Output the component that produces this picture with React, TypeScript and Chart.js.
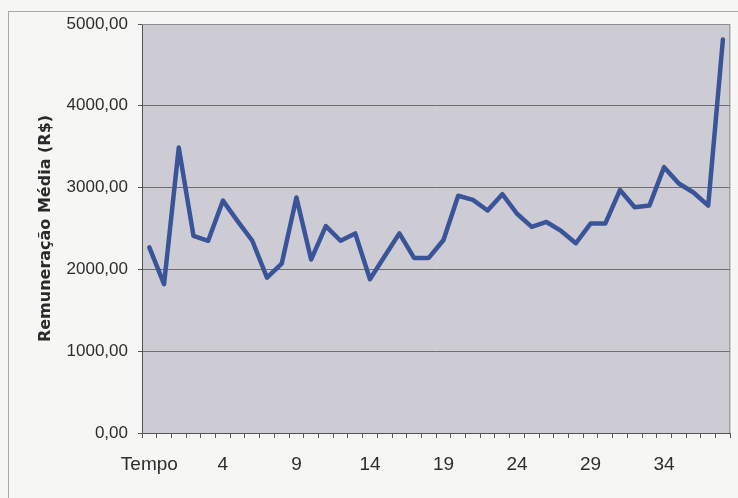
import React, { useEffect, useRef } from "react";
import { Chart, registerables } from "chart.js";

Chart.register(...registerables);

const categories: string[] = ["Tempo", ...Array.from({ length: 39 }, (_, i) => String(i))];

const remuneracao: number[] = [
  2270, 1820, 3490, 2410, 2350, 2840, 2590, 2350, 1900, 2070,
  2880, 2120, 2530, 2350, 2440, 1880, 2160, 2440, 2140, 2140,
  2360, 2900, 2850, 2720, 2920, 2680, 2520, 2580, 2470, 2320,
  2560, 2560, 2970, 2760, 2780, 3250, 3050, 2940, 2780, 4810,
];

const yTicks: number[] = [0, 1000, 2000, 3000, 4000, 5000];
const yTitle = "Remuneração Média (R$)";

const fmt = (v: number) => v.toFixed(2).replace(".", ",");

const bgPlugin = {
  id: "bgPlugin",
  beforeDraw(chart: any) {
    const { ctx, chartArea, width, height } = chart;
    ctx.save();
    ctx.fillStyle = "#f6f6f4";
    ctx.fillRect(0, 0, width, height);
    ctx.strokeStyle = "#a8a8a8";
    ctx.lineWidth = 1;
    ctx.strokeRect(8.5, 11.5, width + 20, height + 20);
    ctx.fillStyle = "#cdccd4";
    ctx.fillRect(chartArea.left, chartArea.top, chartArea.right - chartArea.left, chartArea.bottom - chartArea.top);
    ctx.restore();
  },
  beforeDatasetsDraw(chart: any) {
    const { ctx, chartArea } = chart;
    ctx.save();
    ctx.strokeStyle = "#8c8c8c";
    ctx.lineWidth = 1;
    ctx.beginPath();
    ctx.moveTo(chartArea.left, chartArea.top + 0.5);
    ctx.lineTo(chartArea.right - 0.5, chartArea.top + 0.5);
    ctx.lineTo(chartArea.right - 0.5, chartArea.bottom);
    ctx.stroke();
    ctx.restore();
  },
};

export default function App() {
  const ref = useRef<HTMLCanvasElement | null>(null);

  useEffect(() => {
    document.body.style.margin = "0";
    if (!ref.current) return;
    const chart = new Chart(ref.current, {
      type: "line",
      data: {
        labels: categories,
        datasets: [
          {
            data: remuneracao,
            borderColor: "#3a5499",
            borderWidth: 4.5,
            borderJoinStyle: "round",
            borderCapStyle: "round",
            pointRadius: 0,
            tension: 0,
            fill: false,
          },
        ],
      },
      options: {
        animation: false,
        responsive: true,
        maintainAspectRatio: false,
        layout: { padding: { top: 24, right: 7, left: 0, bottom: 0 } },
        plugins: { legend: { display: false }, tooltip: { enabled: false } },
        scales: {
          x: {
            type: "category",
            offset: true,
            grid: {
              offset: true,
              drawOnChartArea: false,
              drawTicks: true,
              tickLength: 5,
              tickColor: "#555",
            },
            border: { display: true, color: "#555", width: 1 },
            ticks: {
              autoSkip: false,
              maxRotation: 0,
              minRotation: 0,
              padding: 15,
              color: "#2e2e2e",
              font: { family: "'Liberation Sans', Arial, sans-serif", size: 19 },
              callback: (_v: any, i: number) => (i % 5 === 0 ? categories[i] : ""),
            },
            afterFit: (s: any) => {
              s.height = 65;
            },
          },
          y: {
            min: yTicks[0],
            max: yTicks[yTicks.length - 1],
            afterBuildTicks: (s: any) => {
              s.ticks = yTicks.map((v) => ({ value: v }));
            },
            grid: {
              color: (c: any) => (c.tick && c.tick.value === 5000 ? "#9a9a9a" : "#6e6e6e"),
              lineWidth: 1,
              drawTicks: true,
              tickLength: 4,
              tickColor: "#555",
            },
            border: { display: true, color: "#555", width: 1 },
            ticks: {
              padding: 10,
              color: "#2e2e2e",
              font: { family: "'Liberation Sans', Arial, sans-serif", size: 17 },
              callback: (v: any) => fmt(Number(v)),
            },
            title: {
              display: true,
              text: yTitle,
              color: "#2a2a2a",
              font: { family: "'DejaVu Sans', sans-serif", size: 16, weight: "bold" },
              padding: { top: 36, bottom: 0 },
            },
            afterFit: (s: any) => {
              s.width = 142;
            },
          },
        },
      },
      plugins: [bgPlugin],
    } as any);
    return () => chart.destroy();
  }, []);

  return (
    <div style={{ position: "relative", width: 738, height: 498 }}>
      <canvas ref={ref} />
    </div>
  );
}
